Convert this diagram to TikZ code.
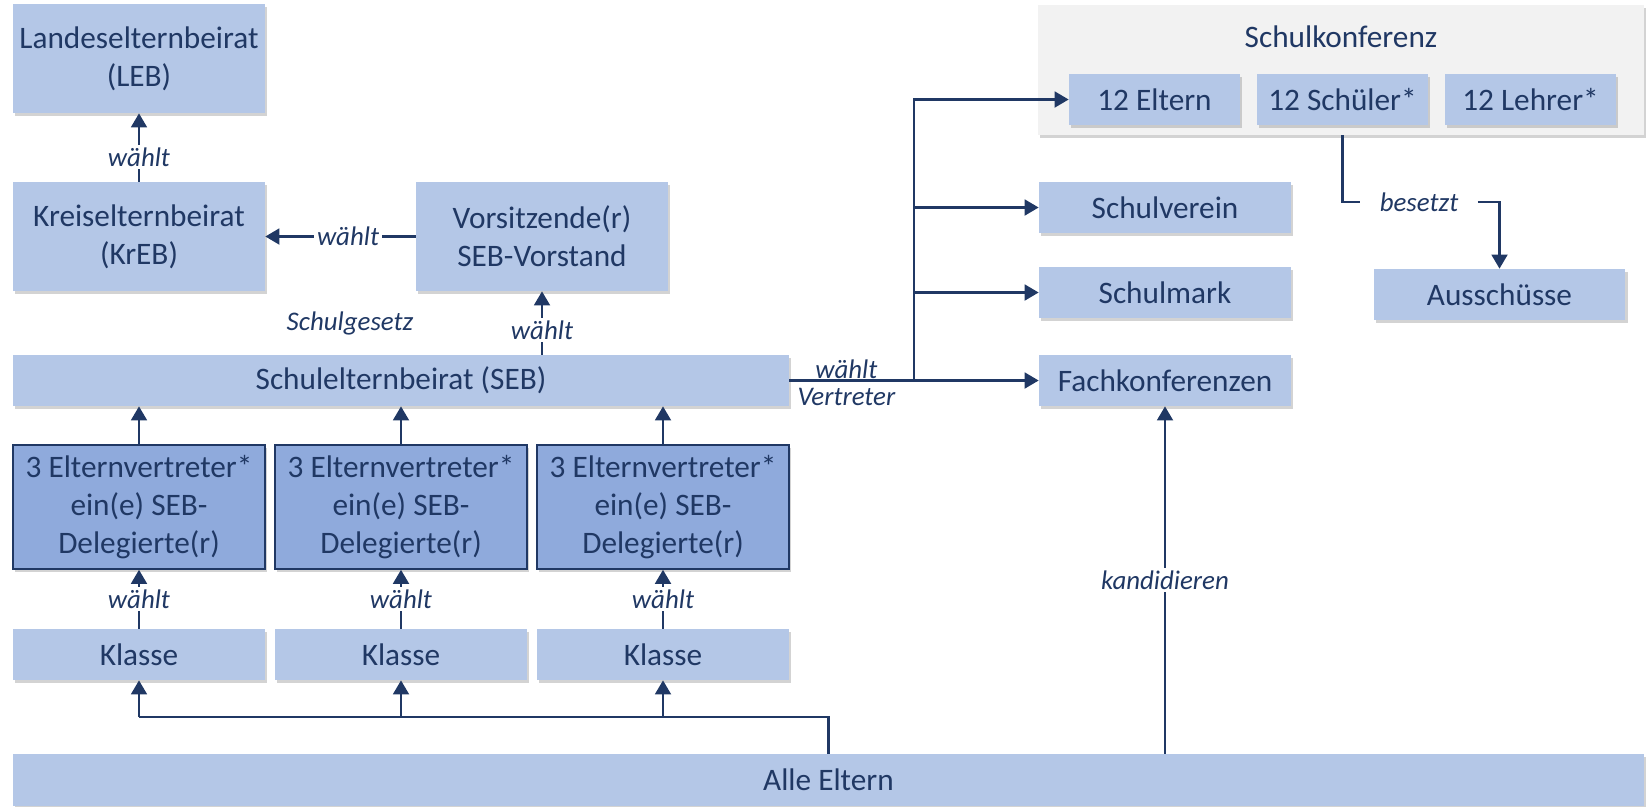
\documentclass[tikz,border=0pt]{standalone}
\usepackage{fontspec}
\setmainfont{Carlito}
\usetikzlibrary{arrows.meta,shadows}

\definecolor{boxblue}{HTML}{B4C7E7}
\definecolor{delblue}{HTML}{8FAADC}
\definecolor{navy}{HTML}{203864}
\definecolor{konfgray}{HTML}{F2F2F2}

\tikzset{
    box/.style={fill=boxblue, text=navy, align=center, inner sep=0pt,
        font=\fontsize{17.8}{21.5}\selectfont,
        minimum width=5.04cm, minimum height=1.02cm,
        drop shadow={shadow xshift=1.2pt, shadow yshift=-1.8pt, opacity=0.35}},
    delbox/.style={box, fill=delblue, draw=navy, line width=0.9pt, minimum height=2.48cm},
    lbl/.style={fill=white, text=navy, inner sep=1.5pt, font=\itshape\fontsize{15.3}{18}\selectfont},
    conn/.style={navy, line width=1.4pt},
}

\begin{document}
\begin{tikzpicture}[x=0.02cm, y=-0.02cm, >={Triangle[width=9pt,length=8pt]}]
    \useasboundingbox (0,0) rectangle (1646,806);

    \node[box, minimum height=2.18cm] (leb) at (139,58.5) {Landeselternbeirat\\(LEB)};
    \node[box, minimum height=2.18cm] (kreb) at (139,236.5) {Kreiselternbeirat\\(KrEB)};
    \node[box, minimum height=2.18cm] (vors) at (542,236.5) {Vorsitzende(r)\\SEB-Vorstand};
    \node[box, minimum width=15.52cm] (seb) at (401,380.5) {Schulelternbeirat (SEB)};
    \node[lbl, fill=none] (gesetz) at (350,323) {Schulgesetz};

    \foreach \i/\x in {1/139, 2/401, 3/663} {
        \node[delbox] (del\i) at (\x,507) {3 Elternvertreter*\\ein(e) SEB-\\Delegierte(r)};
        \node[box] (kl\i) at (\x,654.5) {Klasse};
    }
    \node[box, minimum width=32.62cm, minimum height=1.04cm] (alle) at (828.5,780) {Alle Eltern};

    % Schulkonferenz
    \node[box, fill=konfgray, minimum width=12.12cm, minimum height=2.6cm] (skonf) at (1341,70) {};
    \node[text=navy, font=\fontsize{17.8}{21.5}\selectfont] (sktitle) at (1341,37) {Schulkonferenz};
    \node[box, minimum width=3.42cm] (eltern) at (1154.5,99.5) {12 Eltern};
    \node[box, minimum width=3.42cm] (schueler) at (1342.5,99.5) {12 Schüler*};
    \node[box, minimum width=3.42cm] (lehrer) at (1530.5,99.5) {12 Lehrer*};

    \node[box] (verein) at (1165,207.5) {Schulverein};
    \node[box] (mark) at (1165,292.5) {Schulmark};
    \node[box] (fach) at (1165,380.5) {Fachkonferenzen};
    \node[box] (aussch) at (1499.5,294.5) {Ausschüsse};

    \draw[conn,->] (kreb.north) -- node[lbl,pos=0.36] {wählt} (leb.south);
    \draw[conn,->] (vors.west) -- node[lbl,pos=0.45] {wählt} (kreb.east);
    \draw[conn,->] (seb.north -| vors) -- node[lbl,pos=0.39] {wählt} (vors.south);

    \foreach \i in {1,2,3} {
        \draw[conn,->] (del\i.north) -- (seb.south -| del\i);
        \draw[conn,->] (kl\i.north) -- node[lbl] {wählt} (del\i.south);
    }

    \coordinate (bus) at (828.5,717);
    \draw[conn] (alle.north) -- (bus) -- (bus -| kl1);
    \foreach \i in {1,2,3}
        \draw[conn,->] (bus -| kl\i) -- (kl\i.south);

    \coordinate (trunk) at (914,380.5);
    \draw[conn,->] (seb.east) -- node[lbl,fill=none,above,inner sep=0.5pt,xshift=-3pt] {wählt}
        node[lbl,fill=none,below,inner sep=0.5pt,yshift=-3pt,xshift=-3pt] {Vertreter} (trunk) -- (fach.west);
    \draw[conn,->] (trunk) |- (eltern.west);
    \draw[conn,->] (trunk |- verein) -- (verein.west);
    \draw[conn,->] (trunk |- mark) -- (mark.west);

    \draw[conn,->] (alle.north -| fach) -- node[lbl] {kandidieren} (fach.south);

    \node[lbl, inner xsep=11pt] (besetzt) at (1419,202) {besetzt};
    \draw[conn] (schueler.south |- skonf.south) |- (besetzt.west);
    \draw[conn,->] (besetzt.east) -| (aussch.north);
\end{tikzpicture}
\end{document}
